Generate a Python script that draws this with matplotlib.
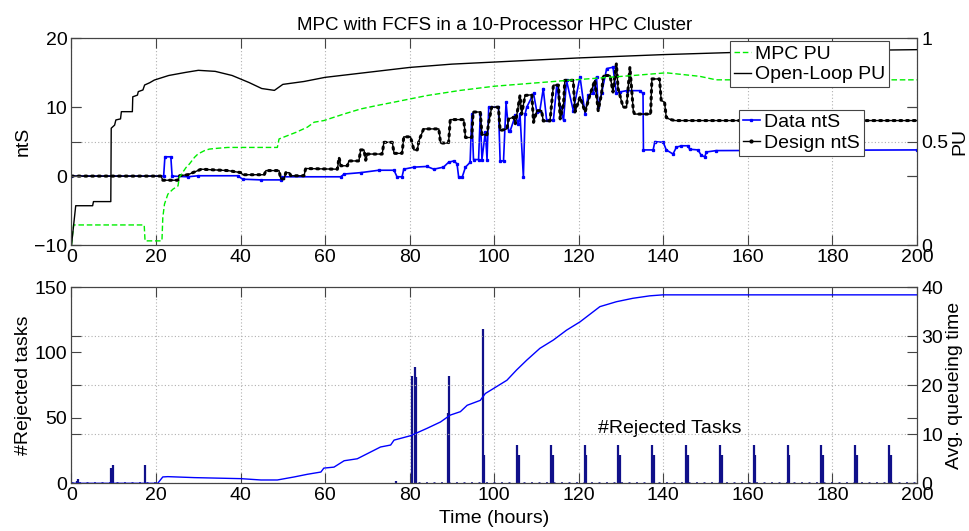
import matplotlib
matplotlib.use('Agg')
import matplotlib.pyplot as plt

plt.rcParams['font.family'] = ['Liberation Sans', 'DejaVu Sans']
plt.rcParams['font.size'] = 14

# ---- top panel data ----
# Data ntS (blue)
data_t = [0, 21.8, 22.1, 23.5, 23.8, 27.5, 30, 39.3, 40.5, 44.8,
          49.5, 49.9, 63.7, 64.5, 68.4, 72.7, 76.3, 77.0, 78.2, 78.6,
          81.0, 84.1, 85.7, 88.0, 89.2, 90.4, 91.2, 91.6, 92.4, 93.2,
          94.3, 94.7, 95.1, 96.3, 96.7, 97.1, 97.9, 98.3, 98.7, 101.0,
          101.4, 102.2, 102.8, 103.4, 103.8, 105.0, 105.7, 106.1, 106.9, 107.3,
          107.7, 109.3, 110.1, 110.8, 111.6, 112.4, 114.0, 114.8, 115.6, 116.4,
          117.1, 118.7, 120.3, 121.5, 122.2, 123.4, 124.2, 124.6, 125.4, 126.6,
          128.1, 128.9, 129.7, 131.3, 134.4, 135.2, 135.3, 137.6, 138.0, 140.0,
          140.7, 142.3, 143.1, 144.3, 145.9, 146.2, 148.2, 149.0, 149.8, 150.2,
          152.5, 200]
data_v = [0, 0, 2.8, 2.8, 0, -0.1, 0.05, 0.05, -0.45, -0.55,
          -0.55, -0.1, -0.1, 0.3, 0.5, 0.85, 0.85, -0.1, -0.1, 1.0,
          1.3, 1.4, 1.0, 1.3, 2.0, 2.2, 1.8, -0.2, -0.2, 1.3,
          2.0, 9.0, 2.4, 2.4, 9.0, 2.4, 6.4, 2.4, 10.0, 10.0,
          2.2, 2.2, 10.7, 6.6, 6.6, 8.8, 7.6, 9.0, -0.2, 9.0,
          10.0, 12.0, 9.3, 9.5, 12.7, 8.1, 8.1, 13.2, 10.0, 8.1,
          13.9, 9.5, 14.4, 9.0, 11.7, 12.0, 14.4, 10.0, 12.0, 15.6,
          15.8, 12.0, 12.2, 12.4, 12.4, 12.0, 3.8, 3.8, 5.0, 4.9,
          3.8, 3.2, 4.2, 4.4, 4.4, 3.9, 3.8, 3.0, 2.8, 3.5,
          3.7, 3.8]

# Design ntS (black)
des_t = [0, 21.2, 21.6, 25.2, 25.5, 27.5, 28.3, 30.7, 37.0, 40.1,
         40.5, 45.6, 46.0, 49.1, 49.5, 50.3, 50.7, 51.5, 51.9, 55.0,
         55.4, 62.9, 63.3, 63.7, 65.3, 65.6, 68.0, 68.4, 69.2, 69.6,
         70.0, 73.5, 73.9, 75.9, 76.3, 78.2, 78.6, 80.2, 81.0, 81.8,
         82.2, 83.3, 86.9, 87.3, 89.2, 89.6, 92.8, 93.2, 94.7, 95.0,
         96.7, 97.1, 98.3, 98.7, 99.4, 101.0, 101.4, 103.0, 103.4, 104.6,
         105.0, 106.1, 106.5, 107.3, 108.9, 109.3, 110.1, 111.2, 111.6, 113.2,
         114.0, 115.2, 115.6, 116.4, 116.7, 118.7, 119.1, 120.3, 121.5, 122.6,
         123.8, 124.6, 125.4, 125.8, 127.4, 128.1, 128.9, 129.3, 130.5, 131.3,
         132.1, 132.5, 132.9, 133.2, 137.0, 137.3, 139.1, 139.5, 140.3, 140.7,
         141.5, 142.7, 200]
des_v = [0, 0, -0.6, -0.6, 0.05, 0.2, 0.4, 1.0, 0.8, 0.5,
         0.2, 0.2, 0.8, 0.8, -0.4, -0.4, 0.5, 0.5, 0.05, 0.05,
         1.1, 1.0, 2.7, 1.5, 1.5, 2.2, 2.2, 3.8, 3.8, 2.3,
         3.2, 3.2, 4.9, 4.9, 3.3, 3.3, 5.7, 5.7, 3.8, 3.8,
         5.15, 6.85, 6.85, 4.8, 4.8, 8.2, 8.2, 5.6, 5.6, 9.3,
         9.3, 6.0, 6.0, 7.8, 10.0, 10.0, 6.6, 6.85, 8.3, 8.55,
         7.6, 11.7, 9.0, 11.7, 11.8, 7.8, 9.5, 9.5, 8.0, 8.0,
         13.2, 13.2, 8.3, 10.5, 13.9, 13.9, 9.3, 11.5, 9.3, 11.7,
         13.9, 9.5, 12.0, 14.6, 14.6, 12.2, 16.3, 12.7, 10.0, 10.0,
         15.8, 12.7, 9.5, 9.0, 9.0, 14.1, 14.1, 11.0, 10.7, 8.5,
         8.25, 8.06, 8.06]

# MPC PU (green dashed)
mpc_t = [0, 0.5, 17.2, 17.4, 21.4, 21.6, 22.0, 22.8, 24.0, 25.2,
         25.5, 27.1, 27.9, 29.1, 29.9, 31.4, 32.6, 34.6, 37.0, 48.7,
         49.1, 51.1, 53.1, 55.8, 57.4, 59.7, 62.1, 64.5, 68.4, 72.3,
         76.3, 84.1, 92.0, 100, 117.1, 132.9, 140.7, 148.6, 152.5, 200]
mpc_v = [0, 0.097, 0.097, 0.02, 0.02, 0.133, 0.198, 0.246, 0.270, 0.286,
         0.327, 0.375, 0.392, 0.424, 0.440, 0.456, 0.464, 0.468, 0.472, 0.472,
         0.513, 0.529, 0.545, 0.570, 0.594, 0.602, 0.618, 0.634, 0.658, 0.675,
         0.691, 0.723, 0.748, 0.768, 0.796, 0.820, 0.833, 0.816, 0.799, 0.799]

# Open-loop PU (black)
ol_t = [0, 1, 5, 5.2, 9.3, 9.4, 10.2, 10.5, 11.6, 11.8,
        14.4, 14.5, 15.6, 15.8, 16.9, 17.3, 18.5, 19.6, 23, 27,
        30, 34, 38, 42, 45, 48, 50, 55, 60, 70,
        80, 90, 100, 105, 120, 140, 156, 180, 200]
ol_v = [0, 0.19, 0.19, 0.21, 0.21, 0.565, 0.58, 0.605, 0.61, 0.645,
        0.645, 0.717, 0.725, 0.742, 0.75, 0.774, 0.785, 0.798, 0.82, 0.835,
        0.845, 0.84, 0.82, 0.786, 0.757, 0.748, 0.777, 0.791, 0.811, 0.835,
        0.859, 0.875, 0.885, 0.89, 0.905, 0.921, 0.931, 0.94, 0.945]

# ---- bottom panel data ----
q_t = [0, 20.4, 21.6, 22.8, 29.1, 40.1, 44.8, 48.7, 52.7, 55.8,
       59.0, 59.7, 62.1, 64.5, 67.6, 73.1, 75.5, 76.3, 80.2, 84.1,
       87.3, 89.6, 92.0, 93.6, 96.7, 97.9, 99.8, 103.0, 105.3, 107.7,
       110.8, 114.0, 117.1, 120.3, 125.0, 128.9, 132.8, 136.8, 139.9, 200]
q_v = [0, 0, 1.3, 1.36, 1.16, 0.95, 0.68, 0.68, 1.3, 1.84,
       2.3, 3.1, 3.3, 4.6, 5.0, 7.4, 7.8, 8.8, 9.7, 11.2,
       12.5, 13.9, 14.6, 15.9, 16.9, 18.3, 19.3, 21.0, 23.1, 25.1,
       27.5, 29.2, 31.2, 32.9, 36.0, 37.0, 37.7, 38.2, 38.4, 38.4]

rej_t = [1.2, 1.6, 9.3, 9.8, 17.3, 76.7, 80.6, 81.3, 81.6, 89.1,
         89.4, 97.3, 97.7,
         105.4, 105.8, 113.4, 113.8, 121.4, 121.8, 129.4, 129.8,
         137.4, 137.8, 145.4, 145.8, 153.4, 153.8, 161.4, 161.8,
         169.4, 169.8, 177.4, 177.8, 185.4, 185.8, 193.4, 193.8]
rej_n = [2, 3.6, 11.7, 13.8, 13.8, 1.8, 82, 89, 81, 54,
         82, 118, 22,
         29, 22, 29, 22, 29, 22, 29, 22,
         29, 22, 29, 22, 29, 22, 29, 22,
         29, 22, 29, 22, 29, 22, 29, 22]
zero_spans = [(0, 20), (82, 200)]

xticks = list(range(0, 201, 20))
spine_c = '#444444'

fig = plt.figure(figsize=(9.7, 5.31), dpi=100)

# ---------------- top panel ----------------
ax1 = fig.add_axes([0.0737, 0.5386, 0.8716, 0.3893])
ax2 = ax1.twinx()

h_data, = ax1.plot(data_t, data_v, color='#0000ff', lw=1.2, marker='s', ms=1.4, label='Data ntS')
ax1.plot(des_t, des_v, color='black', lw=1.0)
ax1.plot(des_t, des_v, color='black', lw=2.2, ls=(0, (0.6, 1.6)), dash_capstyle='round')
h_des, = ax1.plot([], [], color='black', lw=1.0, marker='.', ms=4, label='Design ntS')

h_mpc, = ax2.plot(mpc_t, mpc_v, color='#00ee00', lw=1.0, ls=(0, (4, 2)), label='MPC PU')
h_ol, = ax2.plot(ol_t, ol_v, color='black', lw=1.0, label='Open-Loop PU')

ax1.set_xlim(0, 200)
ax1.set_ylim(-10, 20)
ax1.set_yticks([-10, 0, 10, 20])
ax2.set_ylim(0, 1)
ax2.set_yticks([0, 0.5, 1])
ax2.set_yticklabels(['0', '0.5', '1'])
ax2.set_yticks([1 / 3, 2 / 3], minor=True)
ax1.set_xticks(xticks)
ax1.set_ylabel('ntS', labelpad=2)
ax2.set_ylabel('PU', labelpad=2)
ax1.set_title('MPC with FCFS in a 10-Processor HPC Cluster', fontsize=13.5, pad=6)

leg1 = ax2.legend(handles=[h_mpc, h_ol], loc='upper right', bbox_to_anchor=(0.967, 0.985),
                  borderaxespad=0, fancybox=False, edgecolor=spine_c, framealpha=1,
                  handlelength=0.9, handletextpad=0.2, labelspacing=0.15, borderpad=0.2, fontsize=14)
leg1.get_frame().set_linewidth(0.8)
ax2.add_artist(leg1)
leg2 = ax2.legend(handles=[h_data, h_des], loc='upper right', bbox_to_anchor=(0.937, 0.655),
                  borderaxespad=0, fancybox=False, edgecolor=spine_c, framealpha=1,
                  handlelength=0.9, handletextpad=0.2, labelspacing=0.15, borderpad=0.2, fontsize=14)
leg2.get_frame().set_linewidth(0.8)

# ---------------- bottom panel ----------------
ax3 = fig.add_axes([0.0737, 0.0898, 0.8716, 0.3697])
ax4 = ax3.twinx()

ax3.vlines(rej_t, 0, rej_n, color='#10108a', lw=1.6)
for a, b in zero_spans:
    ax3.hlines(0.4, a, b, color='#10108a', lw=1.8, ls=(0, (0.8, 2.2)))
ax4.plot(q_t, q_v, color='#0000ff', lw=1.0)

ax3.set_xlim(0, 200)
ax3.set_ylim(0, 150)
ax3.set_yticks([0, 50, 100, 150])
ax4.set_ylim(0, 40)
ax4.set_yticks([0, 10, 20, 30, 40])
ax3.set_xticks(xticks)
ax3.set_ylabel('#Rejected tasks', labelpad=2)
ax4.set_ylabel('Avg. queueing time', labelpad=2)
ax3.set_xlabel('Time (hours)', labelpad=4)
ax3.text(124.5, 42, '#Rejected Tasks', ha='left', va='center', fontsize=14)

# ---------------- common styling ----------------
for la, ra in [(ax1, ax2), (ax3, ax4)]:
    la.grid(True, axis='x', ls=(0, (1, 2)), color='#b0b0b0', lw=0.8)
    ra.grid(True, axis='y', ls=(0, (1, 2)), color='#b0b0b0', lw=0.8)
    la.tick_params(axis='both', direction='in', length=7, width=0.8, color=spine_c,
                   top=True, right=True, pad=3)
    ra.tick_params(axis='y', which='both', direction='in', length=7, width=0.8, color=spine_c,
                   left=True, pad=3)
    for a in (la, ra):
        for s in a.spines.values():
            s.set_color(spine_c)
            s.set_linewidth(0.8)
    la.set_axisbelow(True)

fig.savefig('out.png', dpi=100)
